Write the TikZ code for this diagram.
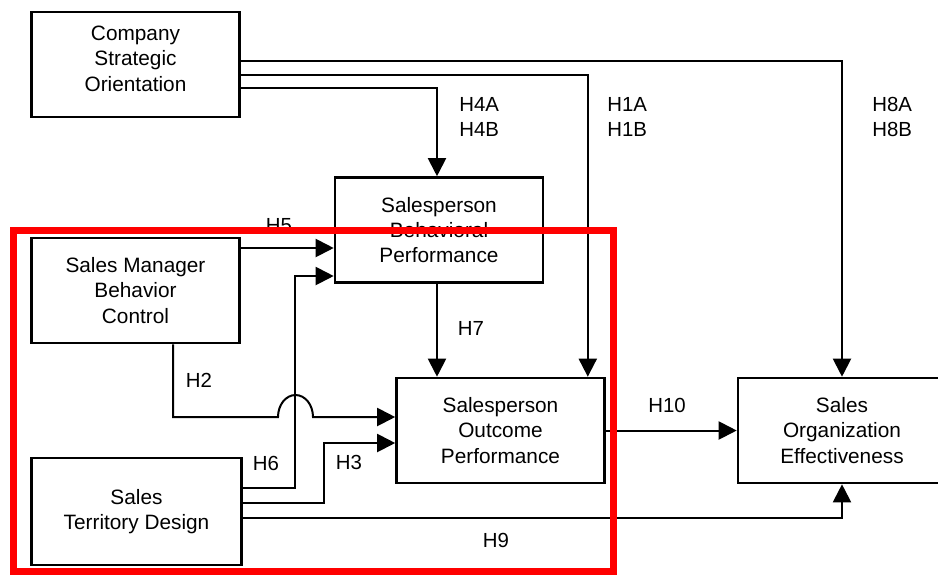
\documentclass[tikz,border=0pt]{standalone}
\usepackage{fontspec}
\setmainfont{Liberation Sans}
\usepackage{tikz}
\usetikzlibrary{arrows.meta, positioning}

\begin{document}
\begin{tikzpicture}[
  x=0.5pt, y=-0.5pt,
  box/.style={rectangle, draw=black, line width=1.3pt, minimum width=104pt,
              minimum height=52.5pt, inner sep=0pt, align=center,
              font=\fontsize{10.4}{12.7}\selectfont},
  arrow/.style={-{Triangle[length=9pt, width=9pt]}, line width=1pt},
  hyp/.style={inner sep=0pt, align=left, font=\fontsize{10.2}{12.7}\selectfont}
]
\path[use as bounding box, clip] (0,0) rectangle (938,575);

% constructs
\node[box] (cso) at (135.5,64.5) {Company\\Strategic\\Orientation\\[-6.7pt]\mbox{}};
\node[box] (smbc) at (135.5,290.5) {Sales Manager\\Behavior\\Control};
\node[box, minimum width=105pt, minimum height=53.5pt] (std) at (136.5,511.5)
  {Sales\\Territory Design};
\node[box] (sbp) at (439,230) {Salesperson\\Behavioral\\Performance};
\node[box] (sop) at (500.5,430.5) {Salesperson\\Outcome\\Performance};
\node[box] (soe) at (842,430.5) {Sales\\Organization\\Effectiveness};

% hypothesis labels
\node[hyp, anchor=west] (h4) at (459,117) {H4A\\H4B};
\node[hyp, anchor=west] (h1) at (607,117) {H1A\\H1B};
\node[hyp, anchor=west] (h8) at (872,117) {H8A\\H8B};
\node[hyp] (h5) at (279,226) {H5};
\node[hyp] (h7) at (471,328) {H7};
\node[hyp] (h2) at (199,380) {H2};
\node[hyp] (h10) at (667,405) {H10};
\node[hyp] (h6) at (266,463) {H6};
\node[hyp] (h3) at (349,462) {H3};
\node[hyp] (h9) at (496,540) {H9};

% paths
\draw[arrow] ([yshift=1.75pt]cso.east) -| (soe.north);
\draw[arrow] ([yshift=-5.25pt]cso.east) -| ([xshift=-9pt]sop.north east);
\draw[arrow] ([yshift=-11.75pt]cso.east) -| ([xshift=-1pt]sbp.north);
\draw[arrow] ([yshift=21.25pt]smbc.east) coordinate (h5s) -- (h5s -| sbp.west);
\draw[arrow] ([yshift=12pt]std.east) -- ++(52,0) |- ([yshift=-23pt]sbp.west);
\coordinate (hop) at (278,417);
\draw[arrow] ([xshift=18.75pt]smbc.south) |- (hop)
  arc[start angle=180, end angle=0, x radius=8.75pt, y radius=11pt]
  -- ([yshift=6.75pt]sop.west);
\draw[arrow] ([yshift=4.5pt]std.east) -- ++(81,0) |- ([yshift=-6.25pt]sop.west);
\draw[arrow] ([yshift=-3pt]std.east) -| (soe.south);
\draw[arrow] ([xshift=-1pt]sbp.south) -- ([xshift=-1pt]sbp.south |- sop.north);
\draw[arrow] (sop) -- (soe);

% highlight
\draw[red, line width=3.5pt] (13,230) rectangle (613,571);

\end{tikzpicture}
\end{document}
